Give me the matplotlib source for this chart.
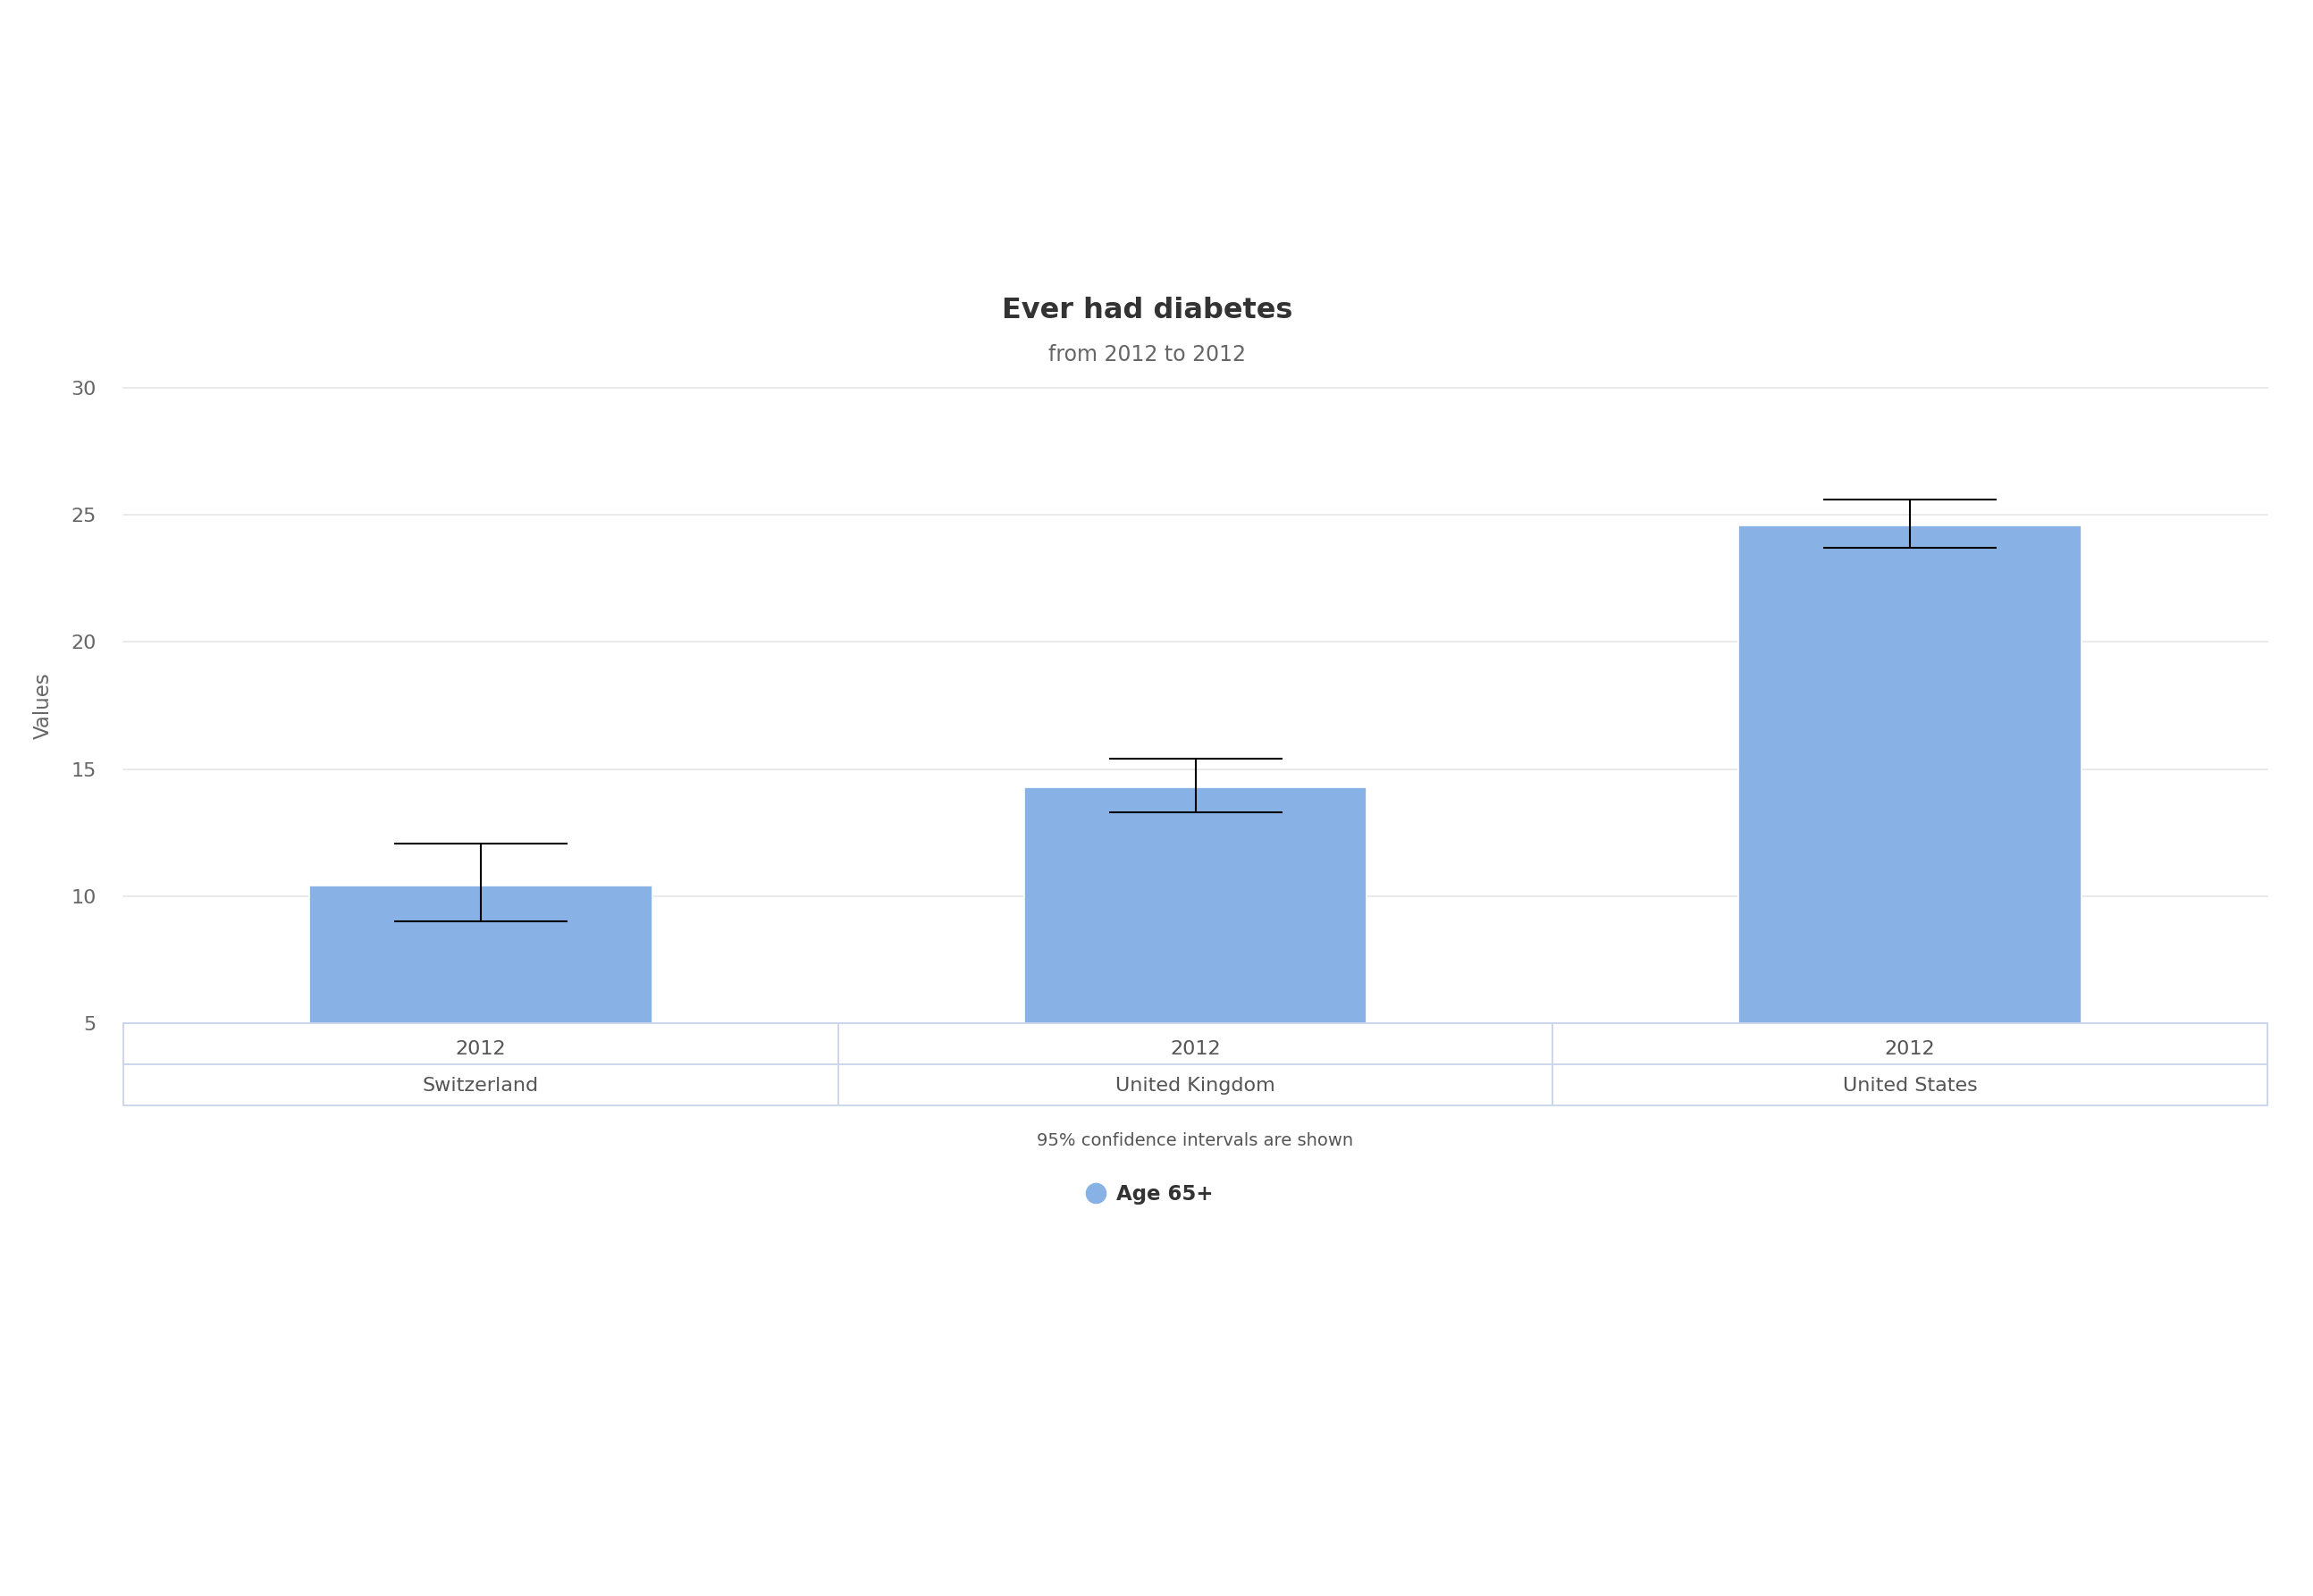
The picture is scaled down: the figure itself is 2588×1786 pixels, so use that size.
import matplotlib
matplotlib.use('Agg')
import matplotlib.pyplot as plt
from matplotlib.lines import Line2D

# data
countries = ['Switzerland', 'United Kingdom', 'United States']
years = ['2012', '2012', '2012']
values = [10.4, 14.3, 24.6]
ci_low = [9.0, 13.3, 23.7]
ci_high = [12.05, 15.4, 25.6]
y_ticks = [5, 10, 15, 20, 25, 30]

BAR = '#88b2e5'
GRID = '#e6e6e6'
BORDER = '#ccd6eb'

plt.rcParams['font.family'] = ['DejaVu Sans']

W, H = 2588, 1786
fig = plt.figure(figsize=(W / 100, H / 100), dpi=100)

# plot area in pixel terms -> figure fractions
left, right = 138, 2537
top, bottom = 434, 1145
ax = fig.add_axes([left / W, 1 - bottom / H, (right - left) / W, (bottom - top) / H])

x = list(range(len(countries)))
ax.bar(x, values, width=0.48, color=BAR, edgecolor='white', linewidth=1.2, zorder=2)
yerr = [[v - lo for v, lo in zip(values, ci_low)], [hi - v for v, hi in zip(values, ci_high)]]
ax.errorbar(x, values, yerr=yerr, fmt='none', ecolor='black', elinewidth=1.5,
            capsize=70, capthick=1.5, zorder=3)

ax.set_xlim(-0.5, len(countries) - 0.5)
ax.set_ylim(y_ticks[0], y_ticks[-1])
ax.set_yticks(y_ticks)
ax.set_xticks([])
ax.tick_params(axis='y', length=0, pad=22, labelsize=16, labelcolor='#666666')
ax.grid(axis='y', color=GRID, linewidth=1.2, zorder=0)
for gl in ax.get_ygridlines():
    gl.set_clip_on(False)
ax.set_axisbelow(True)
for s in ax.spines.values():
    s.set_visible(False)
ax.set_ylabel('Values', fontsize=16.5, color='#666666')
ax.yaxis.set_label_coords(-0.0325, 0.5)

# category table under the plot
row_h = 46
tab = fig.add_axes([left / W, 1 - (bottom + 2 * row_h) / H, (right - left) / W, 2 * row_h / H])
tab.set_xlim(-0.5, len(countries) - 0.5)
tab.set_ylim(0, 2)
tab.axis('off')
for yy in [0, 1, 2]:
    tab.axhline(yy, color=BORDER, linewidth=1.4, clip_on=False)
for xx in [i - 0.5 for i in range(len(countries) + 1)]:
    tab.vlines(xx, 0, 2, color=BORDER, linewidth=1.4, clip_on=False)
for i in x:
    tab.text(i, 1.37, years[i], ha='center', va='center', fontsize=16, color='#555555')
    tab.text(i, 0.47, countries[i], ha='center', va='center', fontsize=16, color='#555555')

fig.text(0.4961, 1 - 348 / H, 'Ever had diabetes', ha='center', va='center',
         fontsize=23, fontweight='bold', color='#333333')
fig.text(0.4958, 1 - 397 / H, 'from 2012 to 2012', ha='center', va='center',
         fontsize=17, color='#666666')
fig.text(1337 / W, 1 - 1276 / H, '95% confidence intervals are shown', ha='center', va='center',
         fontsize=14, color='#555555')

handle = Line2D([], [], linestyle='none', marker='o', markersize=16, color=BAR)
fig.legend([handle], ['Age 65+'], loc='center', bbox_to_anchor=(1287 / W, 1 - 1337 / H),
           frameon=False, handlelength=0.8, handletextpad=0.6,
           prop={'weight': 'bold', 'size': 16.5}, labelcolor='#333333')

fig.savefig('out.png', dpi=100, facecolor='white')
